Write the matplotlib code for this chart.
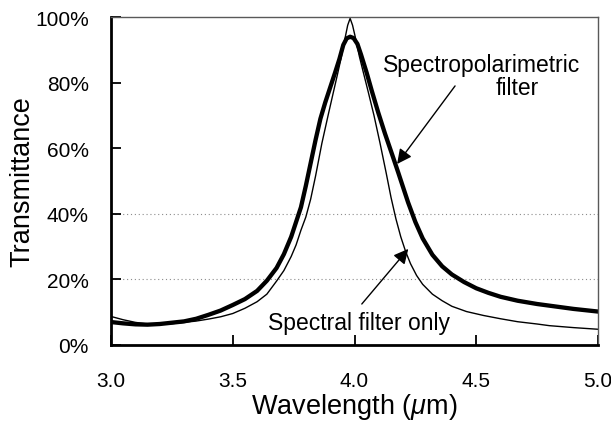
import numpy as np
import matplotlib
matplotlib.use("Agg")
import matplotlib.pyplot as plt
from matplotlib.ticker import PercentFormatter

plt.rcParams["font.family"] = ["Liberation Sans", "DejaVu Sans"]
plt.rcParams["mathtext.fontset"] = "custom"
plt.rcParams["mathtext.it"] = "Liberation Sans:italic"
plt.rcParams["mathtext.rm"] = "Liberation Sans"

# Spectropolarimetric filter (thick curve), wavelength in um, transmittance in %
wl_polar = [3.00, 3.05, 3.10, 3.15, 3.20, 3.25, 3.30, 3.35, 3.40, 3.45, 3.50, 3.55,
            3.60, 3.64, 3.68, 3.71, 3.74, 3.76, 3.78, 3.80, 3.82, 3.84, 3.86, 3.88,
            3.90, 3.92, 3.938, 3.954, 3.968, 3.982, 3.996, 4.012, 4.027, 4.05, 4.071,
            4.097, 4.125, 4.155, 4.18, 4.20, 4.22, 4.25, 4.28, 4.32, 4.36, 4.40, 4.45,
            4.50, 4.55, 4.60, 4.67, 4.75, 4.80, 4.90, 5.00]
tr_polar = [7.0, 6.6, 6.3, 6.2, 6.4, 6.8, 7.2, 8.0, 9.2, 10.5, 12.2, 14.0,
            16.5, 19.6, 23.5, 27.7, 33.0, 37.5, 42.0, 48.5, 55.5, 62.5, 69.0, 74.0,
            78.5, 83.0, 87.2, 91.5, 93.5, 94.0, 93.6, 91.8, 88.5, 83.0, 77.5,
            71.0, 64.5, 58.0, 52.5, 48.0, 43.5, 37.5, 32.5, 27.5, 24.0, 21.5, 19.2,
            17.3, 15.9, 14.7, 13.5, 12.5, 12.0, 11.0, 10.2]

# Spectral filter only (thin curve)
wl_spec = [3.00, 3.05, 3.10, 3.15, 3.20, 3.25, 3.30, 3.35, 3.40, 3.45, 3.50, 3.55,
           3.60, 3.64, 3.68, 3.71, 3.74, 3.76, 3.78, 3.80, 3.82, 3.84, 3.866, 3.893,
           3.913, 3.93, 3.945, 3.961, 3.972, 3.982, 3.992, 4.002, 4.02, 4.035, 4.057,
           4.08, 4.105, 4.13, 4.15, 4.17, 4.19, 4.21, 4.23, 4.255, 4.28, 4.32, 4.36,
           4.40, 4.46, 4.53, 4.60, 4.67, 4.75, 4.80, 4.90, 5.00]
tr_spec = [8.7, 7.7, 6.9, 6.4, 6.3, 6.5, 6.9, 7.3, 7.9, 8.6, 9.6, 11.2,
           13.2, 15.5, 19.5, 22.7, 27.0, 30.5, 35.0, 39.0, 44.5, 51.5, 61.5, 70.5,
           77.0, 82.5, 87.5, 93.5, 97.5, 99.6, 97.5, 94.3, 88.0, 83.5, 77.0,
           70.0, 61.5, 52.5, 45.0, 38.5, 33.0, 28.5, 24.8, 21.2, 18.5, 15.5, 13.5,
           11.8, 10.2, 9.0, 8.0, 7.1, 6.4, 5.9, 5.3, 4.8]

xticks = [3.0, 3.5, 4.0, 4.5, 5.0]
yticks = [0, 20, 40, 60, 80, 100]

fig = plt.figure(figsize=(6.11, 4.27), dpi=100)
ax = fig.add_axes([0.1817, 0.1897, 0.797, 0.768])

ax.plot(wl_spec, tr_spec, color="black", lw=1.0)
ax.plot(wl_polar, tr_polar, color="black", lw=3.1, solid_joinstyle="round")

ax.set_xlim(3.0, 5.0)
ax.set_ylim(0, 100)
ax.set_xticks(xticks)
ax.set_xticklabels([f"{v:.1f}" for v in xticks])
ax.set_yticks(yticks)
ax.yaxis.set_major_formatter(PercentFormatter(decimals=0))
ax.tick_params(axis="both", direction="in", length=7, width=1.3, labelsize=15)
ax.tick_params(axis="y", pad=16)
ax.tick_params(axis="x", pad=19)

# faint dotted grid (only 20% and 40% survive in the scan)
ax.yaxis.grid(True, color="0.55", linestyle=(0, (1, 2.5)), lw=0.8)
for gl, v in zip(ax.get_ygridlines(), yticks):
    if v not in (20, 40):
        gl.set_visible(False)

for side in ("left", "bottom"):
    ax.spines[side].set_linewidth(2)
for side in ("top", "right"):
    ax.spines[side].set_linewidth(1)
    ax.spines[side].set_color("0.35")
    ax.spines[side].set_linestyle((0, (1, 1)))

ax.set_xlabel("Wavelength ($\\mu$m)", fontsize=19.5, va="center")
ax.set_ylabel("Transmittance", fontsize=19.5, va="center")
ax.xaxis.set_label_coords(0.5, -0.187)
ax.yaxis.set_label_coords(-0.1828, 0.5)

arrow = dict(arrowstyle="-|>", color="black", lw=1.0, mutation_scale=22,
             shrinkA=0, shrinkB=0)
ax.annotate("", xy=(4.175, 55.2), xytext=(4.413, 79.0), arrowprops=arrow)
ax.annotate("", xy=(4.221, 29.3), xytext=(4.03, 12.5), arrowprops=arrow)

ax.text(4.52, 85.5, "Spectropolarimetric", fontsize=16.5, ha="center", va="center")
ax.text(4.667, 78.5, "filter", fontsize=16.5, ha="center", va="center")
ax.text(4.02, 7.0, "Spectral filter only", fontsize=16.5, ha="center", va="center",
        bbox=dict(facecolor="white", edgecolor="none", pad=0))

fig.savefig("out.png", dpi=100)
